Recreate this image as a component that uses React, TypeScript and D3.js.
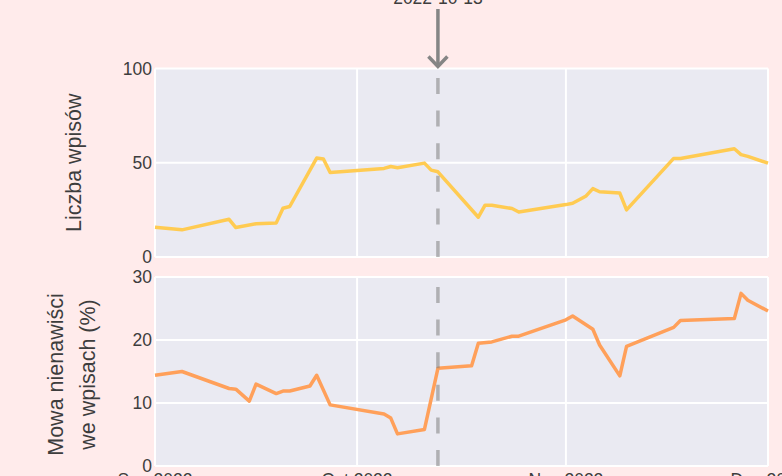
import React from "react";
import * as d3 from "d3";

const postDates = [
  "2022-09-01", "2022-09-05", "2022-09-12", "2022-09-13", "2022-09-16", "2022-09-19",
  "2022-09-20", "2022-09-21", "2022-09-25", "2022-09-26", "2022-09-27", "2022-10-05",
  "2022-10-06", "2022-10-07", "2022-10-11", "2022-10-12", "2022-10-13", "2022-10-19",
  "2022-10-20", "2022-10-21", "2022-10-24", "2022-10-25", "2022-11-01", "2022-11-02",
  "2022-11-04", "2022-11-05", "2022-11-06", "2022-11-09", "2022-11-10", "2022-11-17",
  "2022-11-18", "2022-11-26", "2022-11-27", "2022-11-28", "2022-12-01",
];
const postCounts = [
  15.8, 14.4, 20.0, 15.6, 17.6, 18.1,
  25.9, 26.8, 52.5, 52.0, 44.8, 47.0,
  48.0, 47.4, 49.8, 46.1, 45.2, 21.1,
  27.5, 27.5, 25.7, 23.9, 27.8, 28.5,
  32.4, 36.3, 34.6, 33.9, 25.0, 52.3,
  52.3, 57.4, 54.3, 53.4, 49.8,
];

const hateDates = [
  "2022-09-01", "2022-09-05", "2022-09-12", "2022-09-13", "2022-09-15", "2022-09-16",
  "2022-09-19", "2022-09-20", "2022-09-21", "2022-09-24", "2022-09-25", "2022-09-27",
  "2022-10-05", "2022-10-06", "2022-10-07", "2022-10-11", "2022-10-13", "2022-10-18",
  "2022-10-19", "2022-10-21", "2022-10-24", "2022-10-25", "2022-11-01", "2022-11-02",
  "2022-11-05", "2022-11-06", "2022-11-09", "2022-11-10", "2022-11-17", "2022-11-18",
  "2022-11-26", "2022-11-27", "2022-11-28", "2022-12-01",
];
const hateShare = [
  14.4, 15.0, 12.3, 12.2, 10.3, 13.0,
  11.5, 11.9, 11.9, 12.7, 14.4, 9.7,
  8.25, 7.6, 5.1, 5.8, 15.5, 15.9,
  19.5, 19.7, 20.6, 20.6, 23.2, 23.8,
  21.7, 19.2, 14.3, 19.0, 22.0, 23.1,
  23.4, 27.4, 26.3, 24.6,
];

const xTickDates = ["2022-09-01", "2022-10-01", "2022-11-01", "2022-12-01"];
const xTickLabels = ["Sep 2022", "Oct 2022", "Nov 2022", "Dec 2022"];
const topTicks = [0, 50, 100];
const bottomTicks = [0, 10, 20, 30];
const eventDate = "2022-10-13";

const parse = (s: string) => {
  const [y, m, d] = s.split("-").map(Number);
  return new Date(y, m - 1, d);
};

const W = 782;
const H = 476;
const PLOT_L = 155;
const PLOT_R = 768;
const TOP = { y0: 68.5, y1: 257 };
const BOT = { y0: 277, y1: 466 };

const PINK = "#FFEBEB";
const PLOT_BG = "#EAEAF2";
const TEXT = "#3d3d3d";
const FONT = "'Liberation Sans', Arial, sans-serif";

export default function App() {
  const x = d3.scaleTime().domain([parse("2022-09-01"), parse("2022-12-01")]).range([PLOT_L, PLOT_R]);
  const yTop = d3.scaleLinear().domain([0, 100]).range([TOP.y1, TOP.y0]);
  const yBot = d3.scaleLinear().domain([0, 30]).range([BOT.y1, BOT.y0]);

  const topData = postDates.map((d, i) => ({ d: parse(d), v: postCounts[i] }));
  const botData = hateDates.map((d, i) => ({ d: parse(d), v: hateShare[i] }));

  const lineTop = d3.line<{ d: Date; v: number }>().x((p) => x(p.d)).y((p) => yTop(p.v));
  const lineBot = d3.line<{ d: Date; v: number }>().x((p) => x(p.d)).y((p) => yBot(p.v));

  const ex = x(parse(eventDate));

  const panel = (p: { y0: number; y1: number }, y: d3.ScaleLinear<number, number>, ticks: number[]) => (
    <g>
      <rect x={PLOT_L} y={p.y0} width={PLOT_R - PLOT_L} height={p.y1 - p.y0} fill={PLOT_BG} />
      {xTickDates.map((t) => (
        <line key={t} x1={x(parse(t))} x2={x(parse(t))} y1={p.y0} y2={p.y1} stroke="#fff" strokeWidth={2} />
      ))}
      {ticks.map((t) => (
        <line key={t} x1={PLOT_L} x2={PLOT_R} y1={y(t)} y2={y(t)} stroke="#fff" strokeWidth={2} />
      ))}
      {ticks.map((t) => (
        <text key={"l" + t} x={PLOT_L - 3} y={y(t)} dy="0.35em" textAnchor="end" fontSize={17.5} fill={TEXT} fontFamily={FONT}>
          {t}
        </text>
      ))}
    </g>
  );

  return (
    <svg width={W} height={H} style={{ position: "fixed", left: 0, top: 0, display: "block" }}>
      <rect x={0} y={0} width={W} height={H} fill={PINK} />
      {panel(TOP, yTop, topTicks)}
      {panel(BOT, yBot, bottomTicks)}

      <path d={lineTop(topData) || ""} fill="none" stroke="#FFCB52" strokeWidth={3.5} strokeLinejoin="round" />
      <path d={lineBot(botData) || ""} fill="none" stroke="#FFA05A" strokeWidth={3.5} strokeLinejoin="round" />

      {/* event vertical dashed lines (one per panel, drawn from bottom up) */}
      {[TOP, BOT].map((p, i) => (
        <line key={i} x1={ex} x2={ex} y1={p.y1} y2={p.y0} stroke="#808080" strokeOpacity={0.55} strokeWidth={3.5} strokeDasharray="16,16.6" />
      ))}

      {/* annotation */}
      <text x={ex} y={4} textAnchor="middle" fontSize={17.5} fill={TEXT} fontFamily={FONT}>
        {eventDate}
      </text>
      <line x1={ex} x2={ex} y1={9} y2={66} stroke="#858585" strokeWidth={3.5} />
      <path d={`M${ex - 9.5},${56.5} L${ex},${66.5} L${ex + 9.5},${56.5}`} fill="none" stroke="#858585" strokeWidth={3.5} />

      {/* x tick labels */}
      {xTickDates.map((t, i) => (
        <text key={t} x={x(parse(t))} y={486} textAnchor="middle" fontSize={17.5} fill={TEXT} fontFamily={FONT}>
          {xTickLabels[i]}
        </text>
      ))}

      {/* y axis titles */}
      <text transform={`translate(81,${(TOP.y0 + TOP.y1) / 2}) rotate(-90)`} textAnchor="middle" fontSize={21.5} fill={TEXT} fontFamily={FONT}>
        Liczba wpisów
      </text>
      <text transform={`translate(63,${(BOT.y0 + BOT.y1) / 2 + 3}) rotate(-90)`} textAnchor="middle" fontSize={21.5} fill={TEXT} fontFamily={FONT}>
        Mowa nienawiści
      </text>
      <text transform={`translate(95,${(BOT.y0 + BOT.y1) / 2 + 3}) rotate(-90)`} textAnchor="middle" fontSize={21.5} fill={TEXT} fontFamily={FONT}>
        we wpisach (%)
      </text>
    </svg>
  );
}
